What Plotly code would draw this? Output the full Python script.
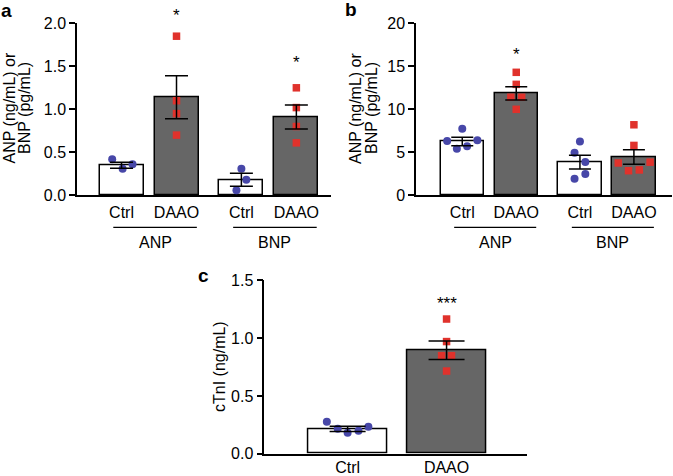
import plotly.graph_objects as go

W, H = 673, 476

# ---------------- data ----------------
cats_ab = ["Ctrl", "DAAO", "Ctrl", "DAAO"]
groups_ab = ["ANP", "BNP"]
cats_c = ["Ctrl", "DAAO"]

# panel a (means, SEM, individual points)
a_mean = [0.35, 1.14, 0.18, 0.91]
a_sem = [0.035, 0.25, 0.075, 0.14]
a_pts = [[0.42, 0.31, 0.36], [1.85, 1.10, 0.95, 0.70],
         [0.31, 0.18, 0.06], [1.25, 1.02, 0.80, 0.61]]
a_stars = ["", "*", "", "*"]

# panel b
b_mean = [6.25, 11.85, 3.85, 4.45]
b_sem = [0.5, 0.78, 0.8, 0.85]
b_pts = [[7.75, 6.3, 6.4, 5.4, 5.7], [14.3, 12.9, 11.4, 11.4, 10.0],
         [6.27, 4.96, 3.87, 2.47, 1.93], [8.2, 5.8, 3.76, 3.85, 2.86, 2.95]]
b_stars = ["", "*", "", ""]

# panel c
c_mean = [0.215, 0.895]
c_sem = [0.022, 0.08]
c_pts = [[0.277, 0.216, 0.182, 0.199, 0.234], [1.165, 0.97, 0.848, 0.848, 0.715]]
c_stars = ["", "***"]

# ---------------- layout helpers (positions / styles) ----------------
pos_ab = [0, 1, 2.18, 3.18]
pos_c = [0, 1]
jit_a = [[-0.17, 0.02, 0.2], [0, 0, 0, 0], [0, 0.09, -0.09], [0, 0, 0, 0]]
jit_b = [[0, -0.28, 0.28, -0.1, 0.09], [0, 0, -0.1, 0.1, 0],
         [0, -0.1, 0.1, 0.1, -0.1], [0, 0, -0.29, 0.3, -0.1, 0.1]]
jit_c = [[-0.21, -0.1, 0, 0.11, 0.21], [0, 0, -0.05, 0.05, 0]]

WHITE = "white"
GREY = "#666666"
BLUE = "#4747a8"
RED = "#e0322c"
FONT = "Liberation Sans, Arial, sans-serif"

def px(x):
    return x / W

def py(y):
    return 1 - y / H

fig = go.Figure()

def panel(xa, ya, pos, mean, sem, pts, jit, stars, cap, star_y, ymax):
    fills = [WHITE if i % 2 == 0 else GREY for i in range(len(mean))]
    fig.add_trace(go.Bar(x=pos, y=mean, width=0.8, xaxis=xa, yaxis=ya,
                         marker=dict(color=fills, line=dict(color="black", width=1.5)),
                         showlegend=False, hoverinfo="skip"))
    for i, vals in enumerate(pts):
        ctrl = i % 2 == 0
        fig.add_trace(go.Scatter(
            x=[pos[i] + j for j in jit[i]], y=vals, mode="markers",
            xaxis=xa, yaxis=ya, showlegend=False, cliponaxis=False,
            marker=dict(symbol="circle" if ctrl else "square", size=8 if ctrl else 7.5,
                        color=BLUE if ctrl else RED, line=dict(width=0))))
    fig.add_trace(go.Scatter(
        x=pos, y=mean, mode="markers", xaxis=xa, yaxis=ya, showlegend=False,
        marker=dict(size=1, opacity=0),
        error_y=dict(type="data", array=sem, color="black", thickness=1.5, width=cap)))
    for i, s in enumerate(stars):
        if s:
            fig.add_annotation(x=pos[i], y=star_y[i] / ymax, xref=xa, yref=ya + " domain",
                               text=s, showarrow=False, yshift=14,
                               font=dict(size=17, color="black", family=FONT))

panel("x", "y", pos_ab, a_mean, a_sem, a_pts, jit_a, a_stars, 11.5, [None, 2.06, None, 1.52], 2.0)
panel("x2", "y2", pos_ab, b_mean, b_sem, b_pts, jit_b, b_stars, 11, [None, 16.1, None, None], 20.0)
panel("x3", "y3", pos_c, c_mean, c_sem, c_pts, jit_c, c_stars, 18, [None, 1.28], 1.5)

axis_common = dict(showline=True, linecolor="black", linewidth=1.5, showgrid=False,
                   zeroline=False, tickfont=dict(size=16, color="black", family=FONT))

ya_dom = [py(195.3), py(23.3)]
fig.update_layout(
    width=W, height=H, margin=dict(l=0, r=0, t=0, b=0, autoexpand=False),
    paper_bgcolor="white", plot_bgcolor="white", bargap=0,
    font=dict(family=FONT, color="black"),
    xaxis=dict(domain=[px(77), px(331)], range=[-0.81, 3.81], anchor="y",
               tickvals=pos_ab, ticktext=cats_ab, ticks="outside", ticklen=2,
               tickcolor="rgba(0,0,0,0)", automargin=False, **axis_common),
    yaxis=dict(domain=ya_dom, range=[0, 2], anchor="x", tickvals=[0, 0.5, 1, 1.5, 2],
               tickformat=".1f", ticks="outside", ticklen=6, tickwidth=1.5,
               tickcolor="black", automargin=False, **axis_common),
    xaxis2=dict(domain=[px(416), px(671.7)], range=[-0.857, 3.88], anchor="y2",
                tickvals=pos_ab, ticktext=cats_ab, ticks="outside", ticklen=2,
                tickcolor="rgba(0,0,0,0)", automargin=False, **axis_common),
    yaxis2=dict(domain=ya_dom, range=[0, 20], anchor="x2", tickvals=[0, 5, 10, 15, 20],
                ticks="outside", ticklen=6, tickwidth=1.5, tickcolor="black",
                automargin=False, **axis_common),
    xaxis3=dict(domain=[px(264.3), px(526.7)], range=[-0.842, 1.81], anchor="y3",
                tickvals=pos_c, ticktext=cats_c, ticks="", ticklabelstandoff=-2,
                automargin=False, **axis_common),
    yaxis3=dict(domain=[py(453.7), py(280.3)], range=[0, 1.5], anchor="x3",
                tickvals=[0, 0.5, 1.0, 1.5], tickformat=".1f", ticks="outside", ticklen=6,
                tickwidth=1.5, tickcolor="black", automargin=False, **axis_common),
)

# group underlines + labels
for xa in ("x", "x2"):
    for g, name in enumerate(groups_ab):
        x0 = pos_ab[2 * g] - 0.15
        x1 = pos_ab[2 * g + 1] + 0.37
        fig.add_shape(type="line", xref=xa, yref="paper", x0=x0, x1=x1,
                      y0=py(227.3), y1=py(227.3), line=dict(color="black", width=1.2))
        fig.add_annotation(x=(x0 + x1) / 2, y=py(243), xref=xa, yref="paper", text=name,
                           showarrow=False, yanchor="middle",
                           font=dict(size=16, color="black", family=FONT))

# y-axis titles
def ytitle(xp, yc, text):
    fig.add_annotation(x=px(xp), y=py(yc), xref="paper", yref="paper", text=text,
                       textangle=-90, showarrow=False, xanchor="center", yanchor="middle",
                       font=dict(size=16, color="black", family=FONT))

ytitle(9.5, 108, "ANP (ng/mL) or")
ytitle(25, 108, "BNP (pg/mL)")
ytitle(356, 108, "ANP (ng/mL) or")
ytitle(372, 108, "BNP (pg/mL)")
ytitle(219, 367, "cTnI (ng/mL)")

# panel letters
for letter, xp, yp in (("a", 6, 10), ("b", 351, 9), ("c", 203, 275)):
    fig.add_annotation(x=px(xp), y=py(yp), xref="paper", yref="paper", text="<b>%s</b>" % letter,
                       showarrow=False, xanchor="center", yanchor="middle",
                       font=dict(size=19, color="black", family=FONT))

fig.write_html("out.html", config={"displayModeBar": False},
               post_script="document.body.style.margin='0';document.body.style.overflow='hidden';")
